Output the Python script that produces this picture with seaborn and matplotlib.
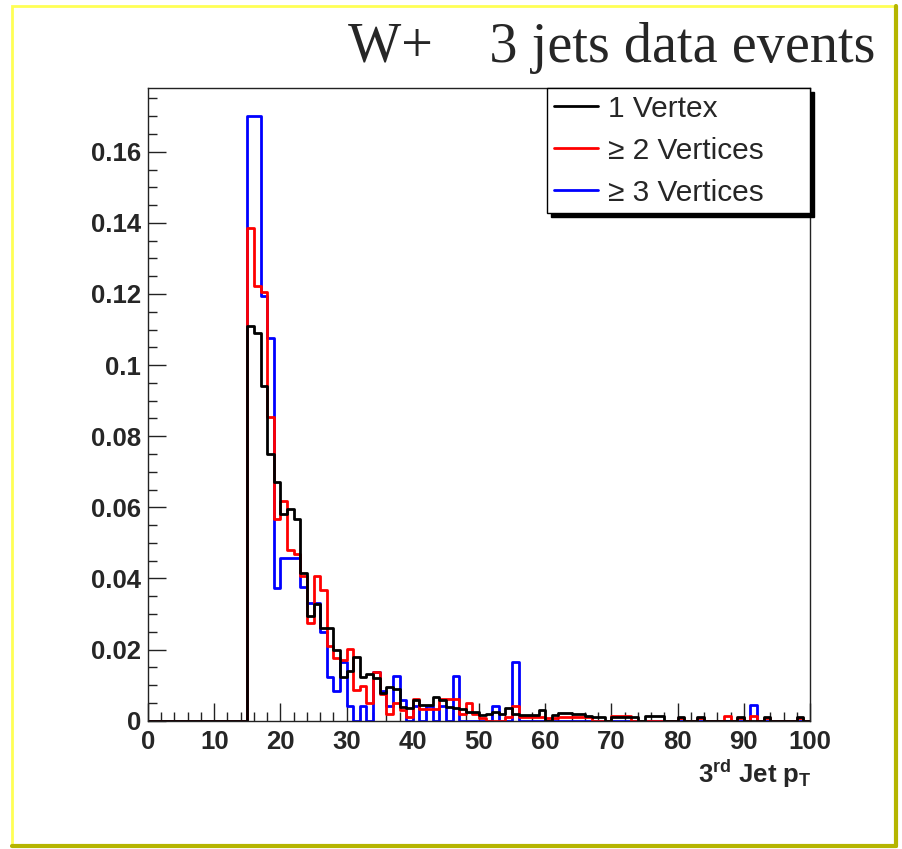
import numpy as np
import pandas as pd
import matplotlib
matplotlib.use("Agg")
import matplotlib.pyplot as plt
import seaborn as sns
from matplotlib.lines import Line2D
from matplotlib.patches import Rectangle
from matplotlib.ticker import MultipleLocator, FuncFormatter

# ---------------- data (bin contents, 1 GeV bins from 0 to 100) ----------------
bin_edges = list(range(0, 101))

one_vertex = [0.0] * 15 + [
    0.111, 0.109, 0.094, 0.075, 0.067, 0.058, 0.0595, 0.0567, 0.0416, 0.0294,   # 15-24
    0.0327, 0.0262, 0.026, 0.020, 0.0124, 0.014, 0.0178, 0.0122, 0.0131, 0.0119,  # 25-34
    0.0077, 0.0096, 0.0088, 0.0039, 0.0035, 0.0058, 0.0044, 0.0044, 0.0067, 0.0058,  # 35-44
    0.0039, 0.0037, 0.0032, 0.0025, 0.0025, 0.0016, 0.002, 0.0025, 0.002, 0.0035,  # 45-54
    0.002, 0.0016, 0.0016, 0.0016, 0.003, 0.0, 0.0016, 0.0022, 0.0022, 0.0018,  # 55-64
    0.0018, 0.0014, 0.0011, 0.0011, 0.0, 0.0011, 0.0011, 0.0011, 0.0011, 0.0,  # 65-74
    0.0013, 0.0013, 0.0013, 0.0, 0.0, 0.001, 0.0, 0.0, 0.001, 0.0,  # 75-84
    0.0, 0.0, 0.0, 0.0, 0.001, 0.0, 0.0, 0.0, 0.001, 0.0,  # 85-94
    0.0, 0.0, 0.0, 0.0011, 0.0,  # 95-99
]

two_vertices = [0.0] * 15 + [
    0.1386, 0.1223, 0.1205, 0.0855, 0.0567, 0.0619, 0.048, 0.0469, 0.0407, 0.0276,  # 15-24
    0.0407, 0.0368, 0.021, 0.0176, 0.0172, 0.0203, 0.0086, 0.0098, 0.0049, 0.0138,  # 25-34
    0.0075, 0.0019, 0.0049, 0.003, 0.0011, 0.006, 0.0032, 0.0032, 0.0032, 0.006,  # 35-44
    0.006, 0.006, 0.002, 0.005, 0.002, 0.0007, 0.0, 0.0, 0.0, 0.0011,  # 45-54
    0.0041, 0.0011, 0.0011, 0.0011, 0.001, 0.0007, 0.0007, 0.001, 0.001, 0.001,  # 55-64
    0.001, 0.001, 0.0, 0.0, 0.0, 0.0013, 0.0013, 0.0013, 0.0, 0.0,  # 65-74
    0.0, 0.0, 0.0, 0.0, 0.0, 0.0007, 0.0, 0.0, 0.0007, 0.0,  # 75-84
    0.0, 0.0, 0.0013, 0.0, 0.0007, 0.0, 0.0013, 0.0, 0.0007, 0.0,  # 85-94
    0.0, 0.0, 0.0, 0.0007, 0.0,  # 95-99
]

three_vertices = [0.0] * 15 + [
    0.170, 0.170, 0.1195, 0.1075, 0.0372, 0.0457, 0.0457, 0.0457, 0.0375, 0.0332,  # 15-24
    0.0332, 0.025, 0.0124, 0.0084, 0.0166, 0.0041, 0.0, 0.0041, 0.0, 0.0138,  # 25-34
    0.0084, 0.0041, 0.0126, 0.0058, 0.0, 0.0041, 0.0, 0.0041, 0.0, 0.0041,  # 35-44
    0.0, 0.0126, 0.0, 0.0, 0.0, 0.0, 0.0, 0.0041, 0.0, 0.0,  # 45-54
    0.0166, 0.0, 0.0, 0.0, 0.0, 0.0, 0.0, 0.0, 0.0, 0.0,  # 55-64
    0.0, 0.0, 0.0, 0.0, 0.0, 0.0, 0.0, 0.0, 0.0, 0.0,  # 65-74
    0.0, 0.0, 0.0, 0.0, 0.0, 0.0, 0.0, 0.0, 0.0, 0.0,  # 75-84
    0.0, 0.0, 0.0, 0.0, 0.0, 0.0, 0.0044, 0.0, 0.0, 0.0,  # 85-94
    0.0, 0.0, 0.0, 0.0, 0.0,  # 95-99
]

series_labels = ["1 Vertex", "\u2265 2 Vertices", "\u2265 3 Vertices"]
series_colors = ["#000000", "#ff0000", "#0000ff"]
x_ticks = list(range(0, 101, 10))
y_ticks = [0, 0.02, 0.04, 0.06, 0.08, 0.1, 0.12, 0.14, 0.16]
title_text = "W+    3 jets data events"

# ---------------- figure ----------------
sns.set_style("white")
plt.rcParams["font.family"] = ["Liberation Sans", "DejaVu Sans"]
plt.rcParams["mathtext.fontset"] = "custom"
plt.rcParams["mathtext.rm"] = "Liberation Sans:bold"
plt.rcParams["mathtext.it"] = "Liberation Sans:bold"
plt.rcParams["mathtext.bf"] = "Liberation Sans:bold"

W, H = 903, 849
fig = plt.figure(figsize=(W / 100, H / 100), dpi=100)
fig.patch.set_facecolor("white")

x0, x1, y_top, y_bot = 148, 810, 88, 720.7
ax = fig.add_axes([x0 / W, (H - y_bot) / H, (x1 - x0) / W, (y_bot - y_top) / H])

centers = np.arange(0.5, 100, 1.0)
df = pd.DataFrame({
    "pt": np.tile(centers, 3),
    "frac": np.concatenate([one_vertex, two_vertices, three_vertices]),
    "series": np.repeat(series_labels, 100),
})

# draw order: blue, red, black (black on top)
for lab, col in zip(series_labels[::-1], series_colors[::-1]):
    sns.histplot(data=df[df["series"] == lab], x="pt", weights="frac", bins=bin_edges,
                 element="step", fill=False, color=col, linewidth=2.0, ax=ax)

ax.set_xlim(0, 100)
ax.set_ylim(0, (y_bot - y_top) / 3556.0)
ax.set_xlabel("")
ax.set_ylabel("")

ax.xaxis.set_major_locator(MultipleLocator(10))
ax.xaxis.set_minor_locator(MultipleLocator(2))
ax.yaxis.set_major_locator(MultipleLocator(0.02))
ax.yaxis.set_minor_locator(MultipleLocator(0.005))
ax.set_xticks(x_ticks)
ax.set_yticks(y_ticks)
ax.yaxis.set_major_formatter(FuncFormatter(lambda v, p: "0" if abs(v) < 1e-9 else ("%g" % round(v, 3))))
ax.tick_params(axis="both", which="major", direction="in", length=13, width=1.0, color="#222222")
ax.tick_params(axis="both", which="minor", direction="in", length=6.5, width=1.0, color="#222222")
ax.tick_params(axis="x", which="both", top=False, bottom=True, pad=7)
ax.tick_params(axis="y", which="both", left=True, right=False, pad=5)
for lab in ax.get_xticklabels() + ax.get_yticklabels():
    lab.set_fontweight("bold")
    lab.set_fontsize(18.5)
for sp in ax.spines.values():
    sp.set_color("#222222")
    sp.set_linewidth(1.0)
    sp.set_visible(True)

# legend
handles = [Line2D([], [], color=c, lw=2.0) for c in series_colors]
leg = ax.legend(handles, series_labels, loc="upper left",
                bbox_to_anchor=((547 - x0) / (x1 - x0), (y_bot - 213) / (y_bot - y_top),
                                (x1 - 547) / (x1 - x0), (213 - y_top) / (y_bot - y_top)),
                mode="expand", borderaxespad=0, frameon=True, fancybox=False,
                edgecolor="black", framealpha=1, facecolor="white",
                prop={"family": ["Liberation Sans", "DejaVu Sans"], "size": 21.5},
                handlelength=1.5, handletextpad=0.33, borderpad=0.22, labelspacing=0.47,
                shadow={"ox": 3, "oy": -3, "facecolor": "black", "edgecolor": "black", "alpha": 1})
leg.get_frame().set_linewidth(1.0)

# title and x label
fig.text(875 / W, 1 - 48 / H, title_text, ha="right", va="center",
         family=["Liberation Serif", "DejaVu Serif"], fontsize=40.5)
fig.text(812 / W, 1 - 783 / H, r"3$^{\mathbf{rd}}$ Jet p$_{\mathbf{T}}$", ha="right", va="baseline",
         fontsize=18.5, fontweight="bold")

# canvas frame (ROOT style yellow bevel)
fig.add_artist(Rectangle((12 / W, 1 - 845 / H), 883 / W, 839 / H, transform=fig.transFigure,
                         fill=False, edgecolor="#ffff55", linewidth=2.0))
fig.add_artist(Line2D([12 / W, 896 / W], [1 - 846 / H, 1 - 846 / H], transform=fig.transFigure,
                      color="#b5b500", linewidth=3.0))
fig.add_artist(Line2D([896 / W, 896 / W], [1 - 846 / H, 1 - 6 / H], transform=fig.transFigure,
                      color="#b5b500", linewidth=3.0))

fig.savefig("out.png", dpi=100, facecolor="white")
